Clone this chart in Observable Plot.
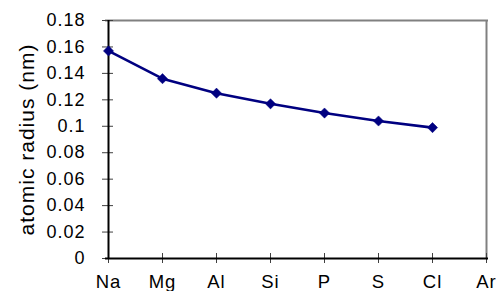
<!DOCTYPE html>
<html>
<head>
<meta charset="utf-8">
<script src="https://cdn.jsdelivr.net/npm/d3@7"></script>
<script src="https://cdn.jsdelivr.net/npm/@observablehq/plot@0.6"></script>
<style>
  html, body { margin: 0; padding: 0; background: #fff; }
</style>
</head>
<body>
<div id="chart"></div>
<script>
const elements = ["Na", "Mg", "Al", "Si", "P", "S", "Cl", "Ar"];
const radii = [0.157, 0.136, 0.125, 0.117, 0.110, 0.104, 0.099, null];
const yTicks = [0, 0.02, 0.04, 0.06, 0.08, 0.1, 0.12, 0.14, 0.16, 0.18];
const yLabel = "atomic radius (nm)";

const data = elements.map((e, i) => ({element: e, radius: radii[i]}));
const points = data.filter(d => d.radius != null);

const chart = Plot.plot({
  width: 499,
  height: 291,
  marginTop: 20,
  marginBottom: 33,
  marginLeft: 105,
  marginRight: 11,
  style: {fontFamily: "'Liberation Sans', Arial, sans-serif", letterSpacing: "1px", background: "#fff", overflow: "visible"},
  x: {type: "point", domain: elements, padding: 0},
  y: {domain: [0, 0.18]},
  marks: [
    Plot.ruleY([0.18], {stroke: "#808080", strokeWidth: 2}),
    Plot.ruleX(["Ar"], {stroke: "#808080", strokeWidth: 2}),
    Plot.ruleY(yTicks, {y: d => d, x1: () => "Na", x2: () => "Na", insetLeft: -6, insetRight: -5, stroke: "#404040", strokeWidth: 1}),
    Plot.ruleX(elements, {x: d => d, y1: () => 0, y2: () => 0, insetTop: -5, insetBottom: -5, stroke: "#404040", strokeWidth: 1}),
    Plot.ruleX(["Na"], {stroke: "#000", strokeWidth: 2}),
    Plot.ruleY([0], {stroke: "#000", strokeWidth: 2}),
    Plot.axisY({ticks: yTicks, tickSize: 0, tickPadding: 20, tickFormat: d => String(d), fontSize: 18, label: null, fill: "#000"}),
    Plot.axisX({tickSize: 0, tickPadding: 16, fontSize: 18.5, label: null, fill: "#000"}),
    Plot.text([yLabel], {text: d => d, frameAnchor: "left", dx: -78, rotate: -90, fontSize: 21, lineAnchor: "middle", textAnchor: "middle", fill: "#000"}),
    Plot.line(data, {x: "element", y: "radius", stroke: "#000080", strokeWidth: 2.6}),
    Plot.dot(points, {x: "element", y: "radius", symbol: "diamond2", r: 4.6, fill: "#000080", stroke: "#000080", strokeWidth: 0.5})
  ]
});
document.getElementById("chart").appendChild(chart);
</script>
</body>
</html>
